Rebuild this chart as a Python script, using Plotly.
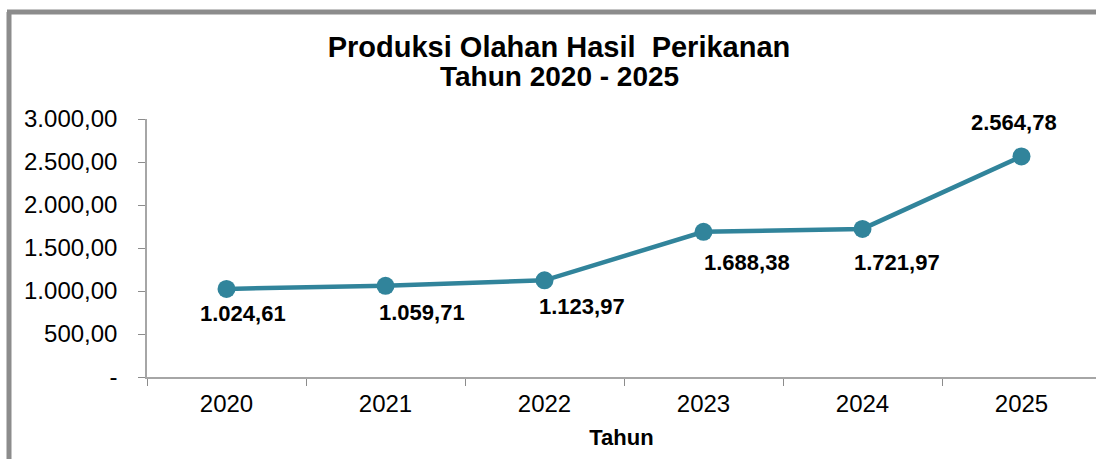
import plotly.graph_objects as go

years = ["2020", "2021", "2022", "2023", "2024", "2025"]
produksi = [1024.61, 1059.71, 1123.97, 1688.38, 1721.97, 2564.78]

y_ticks = [0, 500, 1000, 1500, 2000, 2500, 3000]

# pixel offsets of each value label from its point (label left edge, label middle)
label_dx = [-29, -9, -8, -2, -11, -53]
label_dy = [-25, -27, -26, -31, -34, 34]


def fmt_id(v: float) -> str:
    # Indonesian number format: 1.024,61
    s = f"{v:,.2f}"
    return s.replace(",", "X").replace(".", ",").replace("X", ".")


y_ticktext = ["-" if v == 0 else fmt_id(v) for v in y_ticks]
labels = [fmt_id(v) for v in produksi]

FONT = "Liberation Sans, Arial, sans-serif"
TEAL = "#31849b"
W, H = 1096, 459
L, R, T, B = 147, 0, 119, 82
plot_w = W - L - R
plot_h = H - T - B


def px_x(p):
    return (p - L) / plot_w


def px_y(p):
    return (H - B - p) / plot_h


fig = go.Figure(
    go.Scatter(
        x=years,
        y=produksi,
        mode="lines+markers",
        line=dict(color=TEAL, width=4.5),
        marker=dict(color=TEAL, size=18),
        cliponaxis=False,
        hoverinfo="skip",
    )
)

# value labels; x given as category index (numeric-looking names are read as indices)
for i, (value, text, dx, dy) in enumerate(zip(produksi, labels, label_dx, label_dy)):
    fig.add_annotation(
        x=i,
        y=value,
        text=f"<b>{text}</b>",
        showarrow=False,
        xanchor="left",
        yanchor="middle",
        xshift=dx,
        yshift=dy,
        font=dict(family=FONT, size=22, color="black"),
    )

# second title line
fig.add_annotation(
    x=px_x(559),
    y=px_y(77),
    xref="paper",
    yref="paper",
    text="<b>Tahun 2020 - 2025</b>",
    showarrow=False,
    xanchor="center",
    yanchor="middle",
    font=dict(family=FONT, size=28, color="black"),
)

fig.update_layout(
    width=W,
    height=H,
    margin=dict(l=L, r=R, t=T, b=B),
    paper_bgcolor="white",
    plot_bgcolor="white",
    showlegend=False,
    font=dict(family=FONT, color="black"),
    title=dict(
        text="<b>Produksi Olahan Hasil&nbsp; Perikanan</b>",
        x=px_x(559),
        xref="paper",
        xanchor="center",
        y=1 - 47 / H,
        yanchor="middle",
        font=dict(family=FONT, size=29, color="black"),
    ),
    xaxis=dict(
        type="category",
        range=[-0.5, -0.5 + plot_w / 159],
        showline=True,
        linecolor="#a6a6a6",
        linewidth=1.5,
        ticks="outside",
        tickson="boundaries",
        ticklen=7,
        tickcolor="#8c8c8c",
        showgrid=False,
        ticklabelstandoff=4,
        tickfont=dict(family=FONT, size=24, color="black"),
        title=dict(text="<b>Tahun</b>", font=dict(family=FONT, size=22), standoff=14),
    ),
    yaxis=dict(
        range=[0, 3000],
        tickvals=y_ticks,
        ticktext=y_ticktext,
        showline=True,
        linecolor="#a6a6a6",
        linewidth=1.5,
        ticks="outside",
        ticklen=7,
        tickcolor="#8c8c8c",
        showgrid=False,
        zeroline=False,
        ticklabelstandoff=16,
        tickfont=dict(family=FONT, size=24, color="black"),
    ),
    shapes=[
        dict(
            type="line", xref="paper", yref="paper",
            x0=px_x(9), x1=px_x(9), y0=px_y(12), y1=px_y(H + 5),
            line=dict(color="#8c8c8c", width=5),
        ),
        dict(
            type="line", xref="paper", yref="paper",
            x0=px_x(7), x1=px_x(W + 5), y0=px_y(12), y1=px_y(12),
            line=dict(color="#8c8c8c", width=5),
        ),
    ],
)

# drop the default 8px page margin so the figure fills the window exactly
fig.write_html(
    "out.html",
    config={"displayModeBar": False},
    post_script="document.body.style.margin='0';document.body.style.overflow='hidden';",
)
